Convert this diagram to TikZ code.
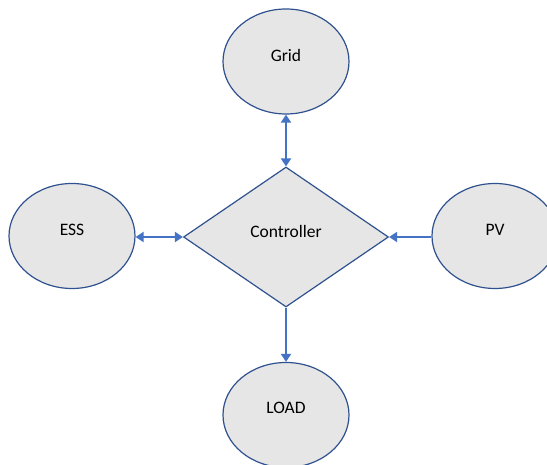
\documentclass[tikz,border=0pt]{standalone}
\usepackage{fontspec}
\setmainfont{Carlito}
\usetikzlibrary{shapes.geometric,arrows.meta}
\definecolor{shapefill}{HTML}{E7E6E6}
\definecolor{shapeline}{HTML}{2F528F}
\definecolor{flow}{HTML}{4472C4}
\tikzset{
  unit/.style={ellipse, draw=shapeline, fill=shapefill, line width=1.2pt,
    minimum width=126pt, minimum height=105pt, inner sep=0pt},
  ctrl/.style={diamond, draw=shapeline, fill=shapefill, line width=1.2pt,
    minimum width=205pt, minimum height=140pt, inner sep=0pt},
  lbl/.style={font=\fontsize{17.5}{20}\selectfont, text=black},
  tip/.style={},
  link/.style={draw=flow, line width=2.8pt,
    arrows={-Triangle[length=8pt,width=10pt]}},
  link2/.style={draw=flow, line width=2.8pt,
    arrows={Triangle[length=8pt,width=10pt]-Triangle[length=8pt,width=10pt]}}
}
\begin{document}
\begin{tikzpicture}[x=1pt,y=-1pt]
\useasboundingbox (0,0) rectangle (547,465);
% energy units around the controller
\node[unit] (grid) at (286,61.5) {};
\node[unit] (ess)  at (72,236) {};
\node[unit] (pv)   at (495,236) {};
\node[unit] (load) at (286,415) {};
\node[ctrl] (ctrl) at (286,237) {};
% labels, set slightly above the shape centres
\node[lbl] at ([yshift=6pt]grid.center) {Grid};
\node[lbl] at ([yshift=6pt]ess.center) {ESS};
\node[lbl] at ([yshift=6pt]pv.center) {PV};
\node[lbl] at ([yshift=7pt]load.center) {LOAD};
\node[lbl] at ([yshift=6pt]ctrl.center) {Controller};
% power flows
\draw[link2] (grid.south) -- (ctrl.north);
\draw[link2] (ess.east |- ctrl.west) -- (ctrl.west);
\draw[link] (pv.west |- ctrl.east) -- (ctrl.east);
\draw[link] (ctrl.south) -- (load.north);
\end{tikzpicture}
\end{document}
